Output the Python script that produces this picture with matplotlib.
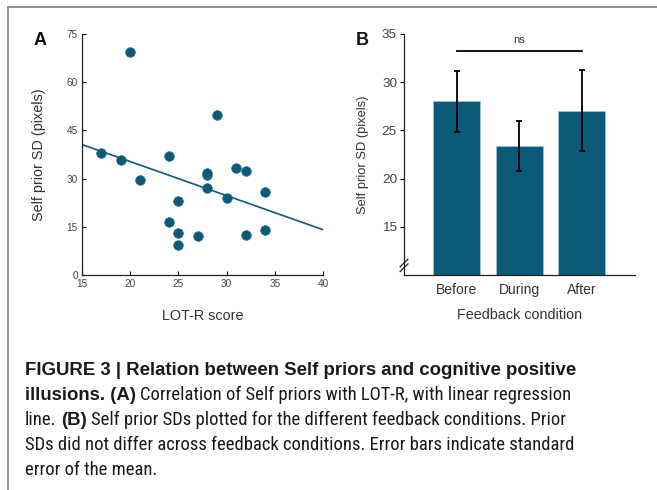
import matplotlib
matplotlib.use("Agg")
import matplotlib.pyplot as plt
from matplotlib.lines import Line2D
from matplotlib import font_manager as fm

# ---------------- data ----------------
lot_r = [17, 19, 20, 21, 24, 24, 25, 25, 25, 27, 28, 28, 28, 29, 30, 31, 32, 32, 34, 34]
self_sd = [37.9, 35.9, 69.3, 29.7, 37.0, 16.5, 23.1, 13.2, 9.2, 12.0, 31.0, 31.6, 27.1, 49.7, 24.0, 33.2, 32.4, 12.6, 25.7, 13.9]
reg_x = [15, 40]
reg_y = [40.6, 14.1]

conditions = ["Before", "During", "After"]
cond_means = [28.0, 23.4, 27.05]
cond_sem = [3.2, 2.6, 4.2]

xticks_a = [15, 20, 25, 30, 35, 40]
yticks_a = [0, 15, 30, 45, 60, 75]
yticks_b = [15, 20, 25, 30, 35]

caption_lines = [
    [("FIGURE 3 | Relation between Self priors and cognitive positive", True)],
    [("illusions. (A)", True), ("Correlation of Self priors with LOT-R, with linear regression", False)],
    [("line.", False), ("(B)", True), ("Self prior SDs plotted for the different feedback conditions. Prior", False)],
    [("SDs did not differ across feedback conditions. Error bars indicate standard", False)],
    [("error of the mean.", False)],
]

# ---------------- style ----------------
W, H = 657, 490
TEAL = "#0a5a78"
LBL = "#333333"
TCK = "#444444"
names = {f.name for f in fm.fontManager.ttflist}
SANS = ["Liberation Sans", "DejaVu Sans"]
narrow_candidates = ["Liberation Sans Narrow", "Roboto Condensed", "Open Sans Condensed",
                     "Noto Sans Condensed", "DejaVu Sans Condensed", "Roboto"]
NARROW = [n for n in narrow_candidates if n in names][:1] + ["DejaVu Sans"]
bold_candidates = [n for n in ["Liberation Sans Narrow", "Roboto Condensed", "Roboto", "Liberation Sans", "Open Sans"] if n in names]
plt.rcParams["font.family"] = SANS

fig = plt.figure(figsize=(W / 100, H / 100), dpi=100)

def fx(px):
    return px / W

def fy(py):
    return 1 - py / H

# frame lines
fig.add_artist(Line2D([fx(8), fx(657)], [fy(7), fy(7)], color="#8a8a8a", lw=1.3, transform=fig.transFigure))
fig.add_artist(Line2D([fx(8), fx(8)], [fy(7), fy(490)], color="#8a8a8a", lw=1.3, transform=fig.transFigure))

# ---------------- panel A ----------------
axA = fig.add_axes([fx(82), fy(275), fx(323) - fx(82), fy(34) - fy(275)])
axA.scatter(lot_r, self_sd, s=48, color=TEAL, edgecolors="#2a6f88", linewidths=0.5, zorder=3, clip_on=False)
axA.plot(reg_x, reg_y, color=TEAL, lw=1.2, zorder=2)
axA.set_xlim(15, 40)
axA.set_ylim(0, 75)
axA.set_xticks(xticks_a)
axA.set_yticks(yticks_a)
for s in ["top", "right"]:
    axA.spines[s].set_visible(False)
for s in ["left", "bottom"]:
    axA.spines[s].set_linewidth(0.9)
    axA.spines[s].set_color("#222222")
axA.tick_params(direction="in", length=3, width=0.8, labelsize=7.2, labelcolor=TCK, pad=3)
axA.set_xlabel("LOT-R score", fontsize=10.4, color=LBL, labelpad=14)
axA.set_ylabel("Self prior SD (pixels)", fontsize=10.4, color=LBL, labelpad=15)
fig.text(fx(40), fy(45), "A", fontsize=13, fontweight="bold", color="#111111", ha="center", va="baseline")

# ---------------- panel B ----------------
axB = fig.add_axes([fx(404), fy(275), fx(635) - fx(404), fy(34) - fy(275)])
pos = list(range(len(conditions)))
axB.bar(pos, cond_means, width=0.75, color=TEAL, edgecolor="#9cc2d2", linewidth=0.6, zorder=2)
axB.errorbar(pos, cond_means, yerr=cond_sem, fmt="none", ecolor="black", elinewidth=1.3, capsize=2.5, capthick=1.3, zorder=3)
axB.set_xlim(-0.84, 2.85)
axB.set_ylim(10, 35)
axB.set_yticks(yticks_b)
axB.set_xticks(pos)
axB.set_xticklabels(conditions)
for s in ["top", "right"]:
    axB.spines[s].set_visible(False)
for s in ["left", "bottom"]:
    axB.spines[s].set_linewidth(0.9)
    axB.spines[s].set_color("#222222")
axB.tick_params(axis="y", direction="out", length=3, width=0.8, labelsize=9.7, labelcolor=TCK, pad=2)
axB.tick_params(axis="x", length=0, labelsize=10, labelcolor=LBL, pad=6)
axB.set_xlabel("Feedback condition", fontsize=10.4, color=LBL, labelpad=8)
axB.set_ylabel("Self prior SD (pixels)", fontsize=9.3, color=LBL, labelpad=9)
# significance bar
axB.plot([pos[0], pos[-1]], [33.25, 33.25], color="black", lw=1.3, clip_on=False)
axB.text((pos[0] + pos[-1]) / 2, 33.9, "ns", fontsize=8, color=LBL, ha="center", va="bottom")
# axis break marks
for yb in (0.03, 0.05):
    axB.plot([-0.017, 0.017], [yb - 0.016, yb + 0.016], transform=axB.transAxes, color="#222222", lw=0.9, clip_on=False)
fig.text(fx(362), fy(45), "B", fontsize=13, fontweight="bold", color="#111111", ha="center", va="baseline")

# ---------------- caption ----------------
fig.canvas.draw()
renderer = fig.canvas.get_renderer()

def text_width(s, size, bold, family):
    t = fig.text(0, 0, s, fontsize=size, fontweight="bold" if bold else "normal", family=family)
    w = t.get_window_extent(renderer).width
    t.remove()
    return w

# regular text size fitted to the widest regular line
base = 12.0
w4 = text_width(caption_lines[3][0][0], base, False, NARROW)
cap_size = base * (573 - 25) / w4
# bold family: the one whose width best matches the bold first line
target1 = 577 - 25
BOLD = min(([b, "DejaVu Sans"] for b in bold_candidates),
           key=lambda fam: abs(text_width(caption_lines[0][0][0], cap_size, True, fam) - target1)) if bold_candidates else NARROW
space = text_width("x x", cap_size, False, NARROW) - text_width("xx", cap_size, False, NARROW)

baselines = [375, 400, 425, 450, 475]
for line, yb in zip(caption_lines, baselines):
    x = 25.0
    for s, bold in line:
        fam = BOLD if bold else NARROW
        t = fig.text(fx(x), fy(yb), s, fontsize=cap_size, fontweight="bold" if bold else "normal",
                     family=fam, color="#1a1a1a", ha="left", va="baseline")
        x += t.get_window_extent(renderer).width + space

fig.savefig("out.png", dpi=100)
